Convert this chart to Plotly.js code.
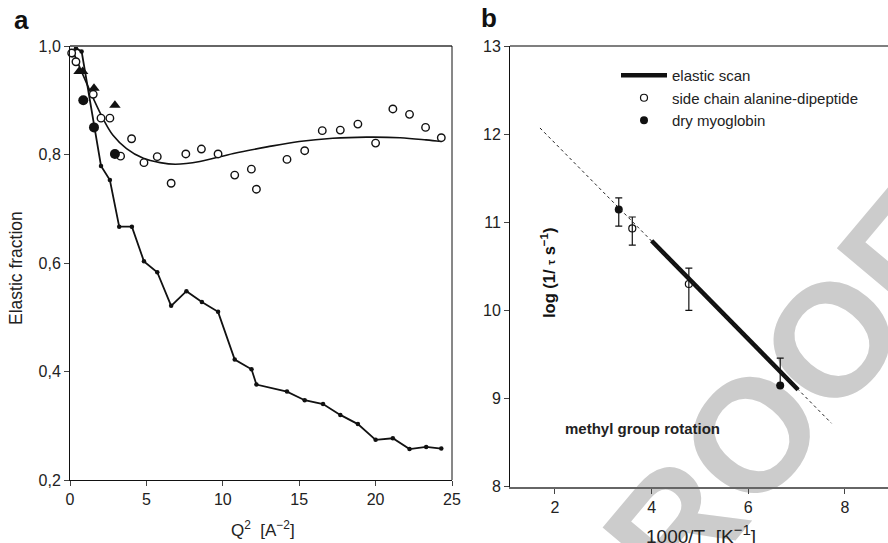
<!DOCTYPE html>
<html>
<head>
<meta charset="utf-8">
<script src="https://cdn.plot.ly/plotly-3.0.1.min.js"></script>
<style>
  html, body { margin: 0; padding: 0; background: #ffffff; overflow: hidden; }
  #wrap { position: relative; width: 888px; height: 543px; overflow: hidden; }
  #wm { position: absolute; left: 402px; top: 355px; width: 700px; height: 160px; line-height: 160px;
        text-align: center; font-family: "Liberation Sans", Arial, sans-serif; font-weight: bold;
        font-size: 160px; color: #cccccc; transform: rotate(-50deg); transform-origin: 50% 50%;
        z-index: 0; white-space: nowrap; }
  #chart { position: absolute; left: 0; top: 0; width: 888px; height: 543px; z-index: 1; }
</style>
</head>
<body>
<div id="wrap">
  <div id="wm">PROOF</div>
  <div id="chart"></div>
</div>
<script>
// ---- Panel a: elastic fraction vs Q^2 ----
const q2Line = [0.17, 0.39, 0.76, 2.03, 2.61, 3.22, 4.05, 4.84, 5.71, 6.62, 7.62, 8.63, 9.69, 10.78, 11.88, 12.2, 14.2, 15.36, 16.56, 17.69, 18.84, 20.0, 21.13, 22.22, 23.31, 24.3];
const elasticLine = [0.983, 0.996, 0.99, 0.779, 0.753, 0.667, 0.667, 0.603, 0.583, 0.521, 0.548, 0.528, 0.510, 0.422, 0.404, 0.376, 0.363, 0.347, 0.340, 0.320, 0.303, 0.274, 0.277, 0.257, 0.261, 0.258];

const q2Open = [0.11, 0.39, 1.52, 2.03, 2.61, 3.31, 4.03, 4.84, 5.71, 6.62, 7.58, 8.6, 9.69, 10.78, 11.87, 12.2, 14.2, 15.36, 16.51, 17.69, 18.84, 20.0, 21.13, 22.22, 23.27, 24.3];
const elasticOpen = [0.987, 0.971, 0.911, 0.867, 0.867, 0.797, 0.829, 0.785, 0.796, 0.747, 0.801, 0.810, 0.801, 0.762, 0.773, 0.736, 0.791, 0.807, 0.844, 0.845, 0.856, 0.821, 0.884, 0.874, 0.850, 0.831];

const q2Tri = [0.59, 0.83, 1.57, 2.94];
const elasticTri = [0.953, 0.953, 0.922, 0.891];

const q2Dot = [0.87, 1.57, 2.94];
const elasticDot = [0.900, 0.850, 0.801];

const q2Fit = [0.2, 0.8, 1.5, 2.2, 2.8, 3.7, 4.8, 5.9, 6.9, 8.5, 10.7, 12.9, 15.0, 17.2, 19.4, 21.6, 23.3, 24.3];
const elasticFit = [0.99, 0.95, 0.905, 0.864, 0.836, 0.811, 0.793, 0.785, 0.782, 0.787, 0.802, 0.814, 0.824, 0.830, 0.832, 0.831, 0.827, 0.824];

const xTicksA = [0, 5, 10, 15, 20, 25];
const yTicksA = [0.2, 0.4, 0.6, 0.8, 1.0];

// ---- Panel b: Arrhenius plot ----
const invTAla = [3.60, 4.77];
const logAla = [10.93, 10.30];
const logAlaPlus = [0.13, 0.18];
const logAlaMinus = [0.19, 0.30];

const invTMyo = [3.32, 6.66];
const logMyo = [11.146, 9.149];
const logMyoPlus = [0.13, 0.31];
const logMyoMinus = [0.19, 0];

const invTScan = [4.0, 7.03];
const logScan = [10.79, 9.10];

const invTExt = [1.69, 7.72];
const logExt = [12.07, 8.72];

const xTicksB = [2, 4, 6, 8];
const yTicksB = [8, 9, 10, 11, 12, 13];

const FONT = '"Liberation Sans", Arial, sans-serif';

const traces = [
  {x: invTScan, y: logScan, xaxis: 'x2', yaxis: 'y2', mode: 'lines', name: 'elastic scan',
   line: {color: '#111', width: 4.5}, showlegend: true, cliponaxis: false},
  {x: invTAla, y: logAla, xaxis: 'x2', yaxis: 'y2', mode: 'markers', name: 'side chain alanine-dipeptide',
   marker: {symbol: 'circle-open', size: 7, color: '#111', line: {width: 1.2, color: '#111'}},
   error_y: {type: 'data', symmetric: false, array: logAlaPlus, arrayminus: logAlaMinus, color: '#111', thickness: 1.2, width: 3.5},
   showlegend: true, cliponaxis: false},
  {x: invTMyo, y: logMyo, xaxis: 'x2', yaxis: 'y2', mode: 'markers', name: 'dry myoglobin',
   marker: {symbol: 'circle', size: 8, color: '#111'},
   error_y: {type: 'data', symmetric: false, array: logMyoPlus, arrayminus: logMyoMinus, color: '#111', thickness: 1.2, width: 3.5},
   showlegend: true, cliponaxis: false},
  {x: invTExt, y: logExt, xaxis: 'x2', yaxis: 'y2', mode: 'lines',
   line: {color: '#222', width: 1, dash: 'dot'}, showlegend: false, cliponaxis: false},
  {x: q2Fit, y: elasticFit, xaxis: 'x', yaxis: 'y', mode: 'lines', line: {color: '#111', width: 1.6, shape: 'spline', smoothing: 1},
   showlegend: false, cliponaxis: false},
  {x: q2Line, y: elasticLine, xaxis: 'x', yaxis: 'y', mode: 'lines+markers', line: {color: '#111', width: 1.8},
   marker: {symbol: 'circle', size: 4.5, color: '#111'}, showlegend: false, cliponaxis: false},
  {x: q2Open, y: elasticOpen, xaxis: 'x', yaxis: 'y', mode: 'markers',
   marker: {symbol: 'circle', size: 7.5, color: '#fff', line: {width: 1.4, color: '#111'}}, showlegend: false, cliponaxis: false},
  {x: q2Tri, y: elasticTri, xaxis: 'x', yaxis: 'y', mode: 'markers',
   marker: {symbol: 'triangle-up', size: 10, color: '#111'}, showlegend: false, cliponaxis: false},
  {x: q2Dot, y: elasticDot, xaxis: 'x', yaxis: 'y', mode: 'markers',
   marker: {symbol: 'circle', size: 10, color: '#111'}, showlegend: false, cliponaxis: false}
];

const W = 888, H = 543;
const px = v => v / W;
const py = v => 1 - v / H;

const axisCommon = {
  showgrid: false, zeroline: false, ticks: 'outside', ticklen: 5, tickwidth: 1,
  tickfont: {family: FONT, size: 16, color: '#222'}, showline: true, automargin: false, fixedrange: true
};

const layout = {
  width: W, height: H,
  margin: {l: 0, r: 0, t: 0, b: 0, pad: 0},
  paper_bgcolor: 'rgba(0,0,0,0)',
  plot_bgcolor: 'rgba(0,0,0,0)',
  separators: ',.',
  font: {family: FONT, color: '#222'},
  showlegend: true,
  legend: {x: px(616), xanchor: 'left', y: py(59), yanchor: 'top', bgcolor: 'rgba(0,0,0,0)',
           font: {family: FONT, size: 15, color: '#222'}, tracegroupgap: 0, itemwidth: 46},
  xaxis: Object.assign({}, axisCommon, {domain: [px(70), px(452)], range: [0, 25], tickvals: xTicksA,
           linecolor: '#111', linewidth: 1, anchor: 'y'}),
  yaxis: Object.assign({}, axisCommon, {domain: [1 - 480 / H, 1 - 46 / H], range: [0.2, 1.0], tickvals: yTicksA,
           tickformat: '.1f', linecolor: '#111', linewidth: 1, anchor: 'x'}),
  xaxis2: Object.assign({}, axisCommon, {domain: [px(510), 1], range: [1.07, 8.89], tickvals: xTicksB,
           linecolor: '#666', linewidth: 2, anchor: 'y2'}),
  yaxis2: Object.assign({}, axisCommon, {domain: [1 - 486.7 / H, 1 - 46 / H], range: [8, 13], tickvals: yTicksB,
           linecolor: '#111', linewidth: 1, anchor: 'x2'}),
  shapes: [
    {type: 'line', xref: 'x domain', yref: 'y domain', x0: 0, x1: 1, y0: 1, y1: 1, line: {color: '#666', width: 2}},
    {type: 'line', xref: 'x domain', yref: 'y domain', x0: 1, x1: 1, y0: 0, y1: 1, line: {color: '#111', width: 1}},
    {type: 'line', xref: 'x2 domain', yref: 'y2 domain', x0: 0, x1: 1, y0: 1, y1: 1, line: {color: '#555', width: 1.5}}
  ],
  annotations: [
    {text: '<b>a</b>', xref: 'paper', yref: 'paper', x: px(21), y: py(20), xanchor: 'center', yanchor: 'middle',
     showarrow: false, font: {family: FONT, size: 26, color: '#111'}},
    {text: '<b>b</b>', xref: 'paper', yref: 'paper', x: px(489), y: py(18), xanchor: 'center', yanchor: 'middle',
     showarrow: false, font: {family: FONT, size: 26, color: '#111'}},
    {text: 'Elastic fraction', xref: 'paper', yref: 'paper', x: px(16), y: py(268), xanchor: 'center', yanchor: 'middle',
     textangle: -90, showarrow: false, font: {family: FONT, size: 17.5, color: '#222'}},
    {text: 'Q<sup>2</sup>\u00a0\u00a0[A<sup>\u22122</sup>]', xref: 'paper', yref: 'paper', x: px(263), y: py(529), xanchor: 'center', yanchor: 'middle',
     showarrow: false, font: {family: FONT, size: 17, color: '#222'}},
    {text: '1000/T\u00a0\u00a0[K<sup><span style="font-size:15px">\u22121</span></sup>]', xref: 'paper', yref: 'paper', x: px(701), y: py(534), xanchor: 'center', yanchor: 'middle',
     showarrow: false, font: {family: FONT, size: 19, color: '#222'}},
    {text: '<b>log (1/ <span style="font-size:11px">\u03c4</span> s<sup>\u22121</sup>)</b>', xref: 'paper', yref: 'paper', x: px(548), y: py(273),
     xanchor: 'center', yanchor: 'middle', textangle: -90, showarrow: false, font: {family: FONT, size: 16.5, color: '#111'}},
    {text: '<b>methyl group rotation</b>', xref: 'paper', yref: 'paper', x: px(563), y: py(428), xanchor: 'left', yanchor: 'middle',
     showarrow: false, font: {family: FONT, size: 15, color: '#222'}}
  ]
};

Plotly.newPlot('chart', traces, layout, {staticPlot: true, displayModeBar: false});
</script>
</body>
</html>
